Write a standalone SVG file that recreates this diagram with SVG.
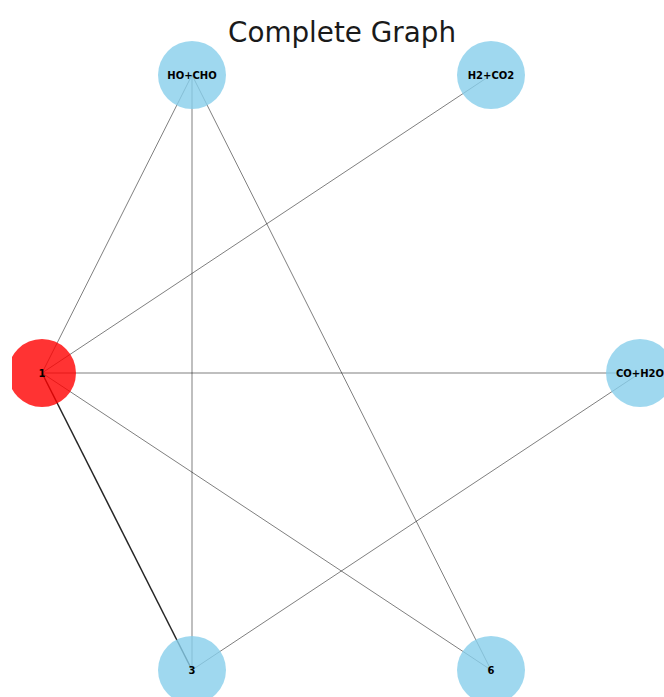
<svg xmlns="http://www.w3.org/2000/svg" width="664" height="697" viewBox="0 0 664 697">
<style>
.e{stroke:#000;stroke-opacity:0.5;stroke-width:1;fill:none}
.n{fill:#87CEEB;fill-opacity:0.8}
.r{fill:#FF0000;fill-opacity:0.8}
.l{font-family:"DejaVu Sans",sans-serif;font-weight:bold;font-size:10px;fill:#000;text-anchor:middle;dominant-baseline:central}
</style>
<defs><clipPath id="c"><rect x="12" y="0" width="652" height="697"/></clipPath></defs>
<rect width="664" height="697" fill="#fff"/>
<text x="342" y="42" font-family="DejaVu Sans,sans-serif" font-size="27.8" text-anchor="middle" fill="#1a1a1a">Complete Graph</text>
<g clip-path="url(#c)">
<g id="edges">
<line class="e" x1="42" y1="373" x2="192" y2="75"/>
<line class="e" x1="42" y1="373" x2="491" y2="75"/>
<line class="e" x1="42" y1="373" x2="640" y2="373"/>
<line x1="42" y1="373" x2="192" y2="670" stroke="#000" stroke-opacity="0.85" stroke-width="1.5"/>
<line class="e" x1="42" y1="373" x2="491" y2="670"/>
<line class="e" x1="192" y1="75" x2="192" y2="670"/>
<line class="e" x1="192" y1="75" x2="491" y2="670"/>
<line class="e" x1="640" y1="373" x2="192" y2="670"/>
</g>
<g id="n-HO+CHO"><circle class="n" cx="192" cy="75" r="34"/><text class="l" x="192" y="75">HO+CHO</text></g>
<g id="n-H2+CO2"><circle class="n" cx="491" cy="75" r="34"/><text class="l" x="491" y="75">H2+CO2</text></g>
<g id="n-1"><circle class="r" cx="42" cy="373" r="34"/><text class="l" x="42" y="373">1</text></g>
<g id="n-CO+H2O"><circle class="n" cx="640" cy="373" r="34"/><text class="l" x="640" y="373">CO+H2O</text></g>
<g id="n-3"><circle class="n" cx="192" cy="670" r="34"/><text class="l" x="192" y="670">3</text></g>
<g id="n-6"><circle class="n" cx="491" cy="670" r="34"/><text class="l" x="491" y="670">6</text></g>
</g>
</svg>
